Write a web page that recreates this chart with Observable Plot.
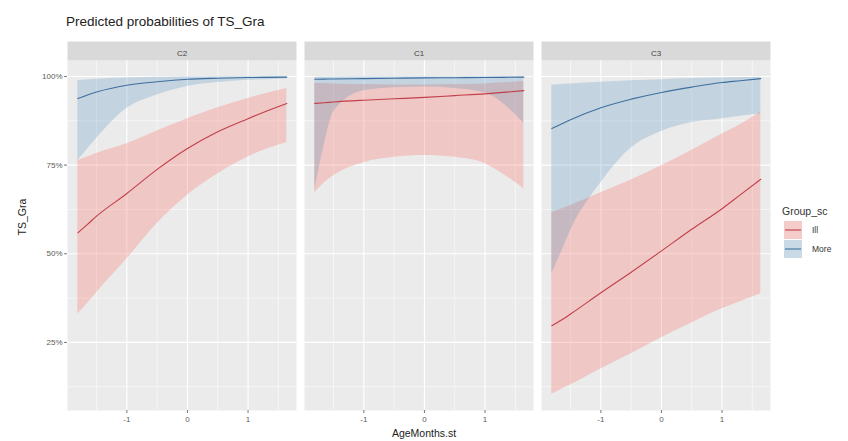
<!DOCTYPE html>
<html><head><meta charset="utf-8">
<script src="https://cdn.jsdelivr.net/npm/d3@7"></script>
<script src="https://cdn.jsdelivr.net/npm/@observablehq/plot@0.6"></script>
<style>
body{margin:0;background:#fff;font-family:"Liberation Sans",Arial,sans-serif}
#wrap{position:relative;width:848px;height:441px;overflow:hidden;background:#fff}
#title{position:absolute;left:66px;top:14px;font-size:13.5px;line-height:16px;color:#222;white-space:nowrap}
#chart{position:absolute;left:0;top:28px}
#legend{position:absolute;left:782px;top:205px;color:#333;white-space:nowrap}
#legend .lt{font-size:10.5px;margin-bottom:3px}
#legend .row{display:flex;align-items:center;height:19px;font-size:8.5px}
#legend svg{margin-left:2px;margin-right:10px}
</style></head><body>
<div id="wrap">
  <div id="title">Predicted probabilities of TS_Gra</div>
  <div id="chart"></div>
  <div id="legend"></div>
</div>
<script>
// ---- data (percent) ----
const panels = ["C2", "C1", "C3"];
const groups = ["Ill", "More"];
const legendTitle = "Group_sc";
const xs = [-1.81, -1.65, -1.5, -1, -0.5, 0, 0.5, 1, 1.3, 1.64];
const yTicks = [25, 50, 75, 100];
const yMinor = [12.5, 37.5, 62.5, 87.5];
const xTicks = [-1, 0, 1];
const xMinor = [-1.5, -0.5, 0.5, 1.5];

// C2
const c2IllPred = [55.9, 58.3, 60.6, 67.0, 73.8, 79.7, 84.4, 88.1, 90.2, 92.4];
const c2IllLo   = [33.0, 36.0, 39.0, 48.5, 58.5, 66.5, 72.5, 77.3, 79.5, 81.4];
const c2IllHi   = [76.3, 77.3, 78.3, 81.0, 84.6, 88.1, 91.2, 93.8, 95.2, 96.6];
const c2MorePred = [93.8, 94.8, 95.6, 97.5, 98.5, 99.2, 99.5, 99.7, 99.75, 99.8];
const c2MoreLo   = [76.3, 79.5, 82.5, 91.0, 94.8, 97.2, 98.3, 98.9, 99.1, 99.3];
const c2MoreHi   = [98.8, 99.0, 99.2, 99.6, 99.8, 99.9, 99.95, 99.97, 99.98, 99.99];
// C1
const c1IllPred = [92.4, 92.6, 92.8, 93.3, 93.7, 94.1, 94.6, 95.1, 95.5, 96.0];
const c1IllLo   = [67.2, 70.0, 72.0, 75.7, 77.2, 77.7, 77.2, 75.4, 72.5, 68.3];
const c1IllHi   = [98.0, 98.0, 97.9, 97.7, 97.6, 97.6, 97.7, 97.9, 98.2, 98.6];
const c1MorePred = [99.2, 99.25, 99.3, 99.4, 99.5, 99.6, 99.65, 99.7, 99.75, 99.8];
const c1MoreLo   = [67.8, 81.0, 90.0, 96.0, 96.8, 97.0, 96.6, 95.3, 92.4, 86.7];
const c1MoreHi   = [99.8, 99.82, 99.85, 99.9, 99.92, 99.94, 99.95, 99.96, 99.97, 99.98];
// C3
const c3IllPred = [29.7, 31.3, 33.0, 39.0, 44.8, 50.8, 56.9, 62.7, 66.6, 71.0];
const c3IllLo   = [10.4, 11.8, 13.0, 17.5, 21.8, 26.3, 30.5, 34.5, 36.5, 38.7];
const c3IllHi   = [61.6, 62.6, 63.6, 67.2, 70.8, 74.8, 79.2, 83.8, 86.4, 90.0];
const c3MorePred = [85.3, 86.6, 87.8, 91.2, 93.6, 95.5, 97.0, 98.3, 98.8, 99.4];
const c3MoreLo   = [44.3, 50.5, 56.5, 70.0, 79.8, 84.5, 87.0, 88.1, 88.8, 89.5];
const c3MoreHi   = [97.5, 97.7, 97.9, 98.4, 98.8, 99.1, 99.4, 99.6, 99.7, 99.8];

const series = {
  C2: {Ill: [c2IllPred, c2IllLo, c2IllHi], More: [c2MorePred, c2MoreLo, c2MoreHi]},
  C1: {Ill: [c1IllPred, c1IllLo, c1IllHi], More: [c1MorePred, c1MoreLo, c1MoreHi]},
  C3: {Ill: [c3IllPred, c3IllLo, c3IllHi], More: [c3MorePred, c3MoreLo, c3MoreHi]}
};
const rows = [];
for (const p of panels) for (const g of groups) {
  const [pr, lo, hi] = series[p][g];
  xs.forEach((x, i) => rows.push({panel: p, group: g, x, pred: pr[i], lo: lo[i], hi: hi[i]}));
}

// ---- styles ----
const fillCol = {Ill: "#F8766D", More: "#377EB8"};
const fillOp = {Ill: 0.3, More: 0.22};
const lineCol = {Ill: "#C23F4A", More: "#3F6F9F"};
const font = "'Liberation Sans', Arial, sans-serif";

const W = 848, H = 413, mt = 32, mb = 31, ml = 67, mr = 78;
const ph = H - mt - mb;

const marks = [
  Plot.frame({fill: "#EBEBEB"}),
  Plot.frame({fill: "#D9D9D9", insetTop: -19, insetBottom: ph}),
  Plot.ruleY(yMinor, {stroke: "#fff", strokeWidth: 0.55}),
  Plot.ruleX(xMinor, {stroke: "#fff", strokeWidth: 0.55}),
  Plot.ruleY(yTicks, {stroke: "#fff", strokeWidth: 1.1}),
  Plot.ruleX(xTicks, {stroke: "#fff", strokeWidth: 1.1})
];
for (const g of groups) {
  marks.push(Plot.areaY(rows.filter(d => d.group === g), {
    x: "x", y1: "lo", y2: "hi", fx: "panel", fill: fillCol[g], fillOpacity: fillOp[g], curve: "monotone-x"
  }));
}
for (const g of groups) {
  marks.push(Plot.line(rows.filter(d => d.group === g), {
    x: "x", y: "pred", fx: "panel", stroke: lineCol[g], strokeWidth: 1.1, curve: "monotone-x"
  }));
}
marks.push(
  Plot.axisY({ticks: yTicks, tickFormat: d => d + "%", tickSize: 3, tickPadding: 2, label: null, fontSize: 8, color: "#5a5a5a", stroke: "#777"}),
  Plot.axisX({ticks: xTicks, tickFormat: d => d === 0 ? "0" : (d < 0 ? "-1" : "1"), tickSize: 3, tickPadding: 3, label: null, fontSize: 8, color: "#5a5a5a", stroke: "#777"}),
  Plot.axisFx({anchor: "top", label: null, tickSize: 0, tickPadding: 5, fontSize: 8, color: "#444"}),
  Plot.text(["TS_Gra"], {fx: () => "C2", frameAnchor: "left", dx: -45, rotate: -90, fontSize: 10.5, fill: "#222"}),
  Plot.text(["AgeMonths.st"], {fx: () => "C1", frameAnchor: "bottom", dx: 5, dy: 26, fontSize: 10.5, fill: "#222"})
);

const chart = Plot.plot({
  width: W, height: H,
  marginTop: mt, marginBottom: mb, marginLeft: ml, marginRight: mr,
  style: {fontFamily: font, fontSize: "8px", background: "transparent", overflow: "visible"},
  fx: {domain: panels, paddingInner: 8 / 237, paddingOuter: 0, round: false, label: null},
  x: {domain: [-1.98, 1.80]},
  y: {domain: [5.8, 104.5]},
  marks
});
document.getElementById("chart").appendChild(chart);

// ---- legend ----
const leg = document.getElementById("legend");
const lt = document.createElement("div");
lt.className = "lt"; lt.textContent = legendTitle; leg.appendChild(lt);
for (const g of groups) {
  const row = document.createElement("div"); row.className = "row";
  row.innerHTML = `<svg width="18" height="18"><rect width="18" height="18" fill="#F2F2F2"/>
    <rect width="18" height="18" fill="${fillCol[g]}" fill-opacity="${fillOp[g]}"/>
    <line x1="1" x2="17" y1="9" y2="9" stroke="${lineCol[g]}" stroke-width="1.1"/></svg><span>${g}</span>`;
  leg.appendChild(row);
}
</script>
</body></html>
